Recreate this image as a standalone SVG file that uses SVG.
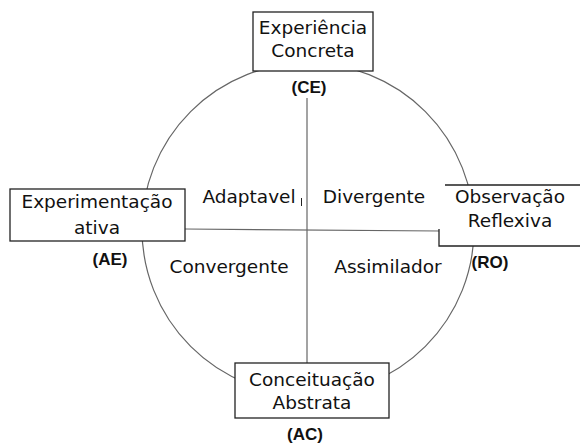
<svg xmlns="http://www.w3.org/2000/svg" width="580" height="446" viewBox="0 0 580 446">
<style>
.t{font-family:"DejaVu Sans","Liberation Sans",sans-serif;font-size:18.5px;fill:#111;text-anchor:middle}
.b{font-family:"Liberation Sans",Arial,sans-serif;font-size:17px;font-weight:bold;fill:#111;text-anchor:middle}
.box{fill:#fff;stroke:#222;stroke-width:1.3}
.ln{fill:none;stroke:#666;stroke-width:1.2}
</style>
<rect width="580" height="446" fill="#fff"/>
<g id="connectors">
<circle class="ln" cx="308" cy="229" r="166"/>
<line class="ln" x1="307" y1="98" x2="307" y2="364"/>
<line class="ln" x1="185" y1="229" x2="440" y2="231"/>
</g>
<g id="ce">
<rect class="box" x="253" y="12" width="120" height="59"/>
<text class="t" x="313" y="34">Experiência</text>
<text class="t" x="313" y="57">Concreta</text>
<text class="b" x="309" y="93">(CE)</text>
</g>
<g id="ae">
<rect class="box" x="10" y="189" width="175" height="52"/>
<text class="t" x="97" y="208">Experimentação</text>
<text class="t" x="97" y="234">ativa</text>
<text class="b" x="110" y="265">(AE)</text>
</g>
<g id="ro">
<rect x="440" y="185" width="140" height="61" fill="#fff"/>
<path class="box" fill="none" d="M445 185H580M439 229V246H580"/>
<text class="t" x="510" y="203">Observação</text>
<text class="t" x="510" y="227">Reflexiva</text>
<text class="b" x="490" y="268">(RO)</text>
</g>
<g id="ac">
<rect class="box" x="235" y="363" width="154" height="55"/>
<text class="t" x="312" y="386">Conceituação</text>
<text class="t" x="312" y="409">Abstrata</text>
<text class="b" x="305" y="440">(AC)</text>
</g>
<g id="quadrants">
<text class="t" x="249" y="203">Adaptavel</text>
<line x1="301.5" y1="198" x2="301.5" y2="206" stroke="#222" stroke-width="1"/>
<text class="t" x="374" y="203">Divergente</text>
<text class="t" x="229" y="273">Convergente</text>
<text class="t" x="388" y="273">Assimilador</text>
</g>
</svg>
